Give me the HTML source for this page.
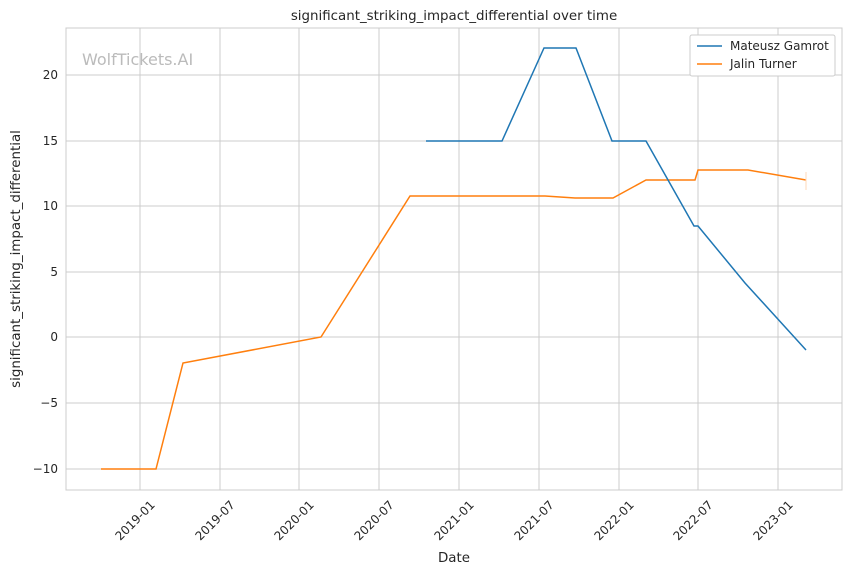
<!DOCTYPE html>
<html><head><style>body{margin:0;background:#fff}</style></head><body>
<svg width="850" height="575" xmlns="http://www.w3.org/2000/svg" font-family="DejaVu Sans, Liberation Sans, sans-serif" font-size="12" fill="#262626">
<rect width="850" height="575" fill="#fff"/>
<g stroke="#cccccc" stroke-width="1">
<line x1="140" y1="28" x2="140" y2="490"/><line x1="220" y1="28" x2="220" y2="490"/><line x1="299" y1="28" x2="299" y2="490"/><line x1="379" y1="28" x2="379" y2="490"/><line x1="459" y1="28" x2="459" y2="490"/><line x1="539" y1="28" x2="539" y2="490"/><line x1="619" y1="28" x2="619" y2="490"/><line x1="698" y1="28" x2="698" y2="490"/><line x1="778" y1="28" x2="778" y2="490"/>
<line x1="66" y1="75" x2="842" y2="75"/><line x1="66" y1="141" x2="842" y2="141"/><line x1="66" y1="206" x2="842" y2="206"/><line x1="66" y1="272" x2="842" y2="272"/><line x1="66" y1="337" x2="842" y2="337"/><line x1="66" y1="403" x2="842" y2="403"/><line x1="66" y1="469" x2="842" y2="469"/>
<rect x="66" y="28" width="776" height="462" fill="none"/>
</g>
<text x="82" y="65" font-size="16" fill="#bbbbbb">WolfTickets.AI</text>
<polyline fill="none" stroke="#ff7f0e" stroke-width="1.5" points="101,469 156,469 183,363 321,337 410,196 545,196 575,198 613,198 646,180 695,180 698,170 748,170 806,180"/>
<line x1="806" y1="172" x2="806" y2="190" stroke="#ffd9b8" stroke-width="1"/>
<polyline fill="none" stroke="#1f77b4" stroke-width="1.5" points="426,141 502,141 544,48 576,48 612,141 646,141 694,226 698,226 745,283 806,350"/>
<g text-anchor="end">
<text x="58" y="79">20</text><text x="58" y="145">15</text><text x="58" y="210">10</text><text x="58" y="276">5</text><text x="58" y="341">0</text><text x="58" y="407">−5</text><text x="58" y="473">−10</text>
</g>
<g text-anchor="end">
<text transform="translate(150,500) rotate(-45)" x="0" y="8">2019-01</text>
<text transform="translate(230,500) rotate(-45)" x="0" y="8">2019-07</text>
<text transform="translate(309,500) rotate(-45)" x="0" y="8">2020-01</text>
<text transform="translate(389,500) rotate(-45)" x="0" y="8">2020-07</text>
<text transform="translate(469,500) rotate(-45)" x="0" y="8">2021-01</text>
<text transform="translate(549,500) rotate(-45)" x="0" y="8">2021-07</text>
<text transform="translate(629,500) rotate(-45)" x="0" y="8">2022-01</text>
<text transform="translate(708,500) rotate(-45)" x="0" y="8">2022-07</text>
<text transform="translate(788,500) rotate(-45)" x="0" y="8">2023-01</text>
</g>
<text x="454" y="562" text-anchor="middle" font-size="13.4">Date</text>
<text transform="translate(20,259) rotate(-90)" text-anchor="middle" font-size="13.4">significant_striking_impact_differential</text>
<text x="454" y="20" text-anchor="middle" font-size="13.4">significant_striking_impact_differential over time</text>
<rect x="690" y="35" width="145" height="41" fill="#fff" stroke="#cccccc" rx="2"/>
<line x1="697" y1="46" x2="722" y2="46" stroke="#1f77b4" stroke-width="1.5"/>
<text x="730" y="50">Mateusz Gamrot</text>
<line x1="697" y1="64" x2="722" y2="64" stroke="#ff7f0e" stroke-width="1.5"/>
<text x="730" y="68">Jalin Turner</text>
</svg>
</body></html>
